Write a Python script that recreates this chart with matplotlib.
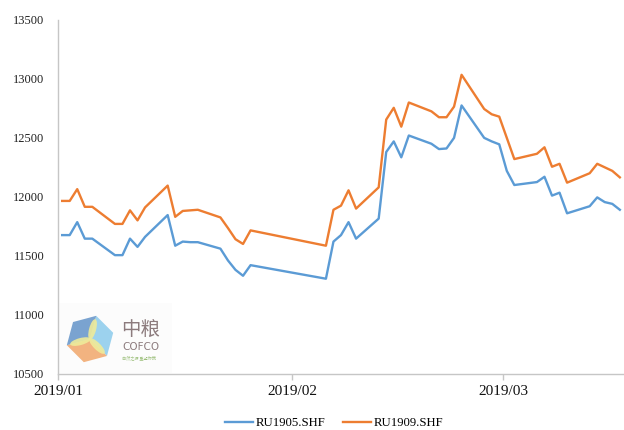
import matplotlib
matplotlib.use('Agg')
import matplotlib.pyplot as plt
import matplotlib.dates as mdates
from matplotlib.patches import Polygon, Ellipse, Rectangle
import numpy as np
import pandas as pd

# trading days (Spring Festival gap Feb 4-8)
trade_days = [
    '2019-01-07', '2019-01-08', '2019-01-09', '2019-01-10', '2019-01-11',
    '2019-01-14', '2019-01-15', '2019-01-16', '2019-01-17', '2019-01-18',
    '2019-01-21', '2019-01-22', '2019-01-23', '2019-01-24', '2019-01-25',
    '2019-01-28', '2019-01-29', '2019-01-30', '2019-01-31', '2019-02-01',
    '2019-02-11', '2019-02-12', '2019-02-13', '2019-02-14', '2019-02-15',
    '2019-02-18', '2019-02-19', '2019-02-20', '2019-02-21', '2019-02-22',
    '2019-02-25', '2019-02-26', '2019-02-27', '2019-02-28', '2019-03-01',
    '2019-03-04', '2019-03-05', '2019-03-06', '2019-03-07', '2019-03-08',
    '2019-03-11', '2019-03-12', '2019-03-13', '2019-03-14', '2019-03-15',
    '2019-03-18', '2019-03-19', '2019-03-20', '2019-03-21', '2019-03-22',
]
ru1905 = [
    11675, 11675, 11785, 11645, 11645,
    11505, 11505, 11645, 11575, 11660,
    11845, 11585, 11620, 11615, 11615,
    11560, 11460, 11380, 11330, 11420,
    11305, 11620, 11675, 11785, 11645,
    11815, 12380, 12470, 12335, 12520,
    12450, 12405, 12410, 12500, 12775,
    12500, 12470, 12445, 12220, 12100,
    12125, 12170, 12010, 12035, 11860,
    11920, 11995, 11955, 11940, 11890,
]
ru1909 = [
    11965, 11965, 12065, 11915, 11915,
    11770, 11770, 11885, 11800, 11910,
    12095, 11830, 11880, 11885, 11890,
    11825, 11735, 11640, 11600, 11715,
    11585, 11890, 11925, 12055, 11900,
    12080, 12655, 12755, 12595, 12800,
    12725, 12675, 12675, 12765, 13035,
    12745, 12700, 12680, 12500, 12320,
    12365, 12420, 12255, 12280, 12120,
    12200, 12280, 12250, 12220, 12165,
]
x_ticks = ['2019-01-07', '2019-02-07', '2019-03-07']
y_ticks = [10500, 11000, 11500, 12000, 12500, 13000, 13500]

plt.rcParams['font.family'] = ['Liberation Serif', 'DejaVu Sans']

W, H = 624, 430
fig = plt.figure(figsize=(W / 100, H / 100), dpi=100)

# logo, drawn in pixel coordinates (y downwards)
logo = fig.add_axes([59 / W, (H - 373) / H, 113 / W, 70 / H])
logo.set_xlim(59, 172)
logo.set_ylim(373, 303)
logo.axis('off')
logo.add_patch(Rectangle((59, 303), 113, 70, color='#fcfcfc', zorder=0))
cx, cy, r = 90, 339, 24
ang = np.deg2rad(np.arange(6) * 60 - 75)
hx = cx + r * np.cos(ang)
hy = cy + r * np.sin(ang)
faces = [([0, 1, 2], '#9cd2ee'), ([2, 3, 4], '#f2b380'), ([4, 5, 0], '#7aa3d0')]
for idx, c in faces:
    pts = [(cx, cy)] + [(hx[k], hy[k]) for k in idx]
    logo.add_patch(Polygon(pts, closed=True, color=c, lw=0))
for a in [-75, 45, 165]:
    t = np.deg2rad(a)
    logo.add_patch(Ellipse((cx + 10 * np.cos(t), cy + 10 * np.sin(t)), 21, 7,
                           angle=a, color='#eeeb9a', alpha=0.9, lw=0))
logo.text(121, 330, '中粮', family=['Noto Sans CJK SC'], fontsize=14,
          color='#8c7b7d', va='center', ha='left')
logo.text(122, 347, 'COFCO', family=['DejaVu Sans'], fontsize=7.5,
          color='#8c7b7d', va='center', ha='left')
logo.text(122, 358, '自然之源 重塑你我', family=['Noto Sans CJK SC'], fontsize=3,
          color='#9bbf7a', va='center', ha='left')

ax = fig.add_axes([58.4 / W, (H - 373.6) / H, 565.2 / W, 353.6 / H])
ax.patch.set_alpha(0)
dates = pd.to_datetime(trade_days) + pd.Timedelta(hours=12)
ax.plot(dates, ru1905, color='#5B9BD5', lw=1.7, label='RU1905.SHF')
ax.plot(dates, ru1909, color='#ED7D31', lw=1.7, label='RU1909.SHF')

ax.set_xlim(pd.Timestamp('2019-01-07'), pd.Timestamp('2019-03-23'))
ax.set_ylim(10500, 13500)
ax.set_yticks(y_ticks)
ax.set_xticks(pd.to_datetime(x_ticks))
ax.xaxis.set_major_formatter(mdates.DateFormatter('%Y/%m'))

for s in ['top', 'right']:
    ax.spines[s].set_visible(False)
for s in ['left', 'bottom']:
    ax.spines[s].set_color('#c6c6c6')
    ax.spines[s].set_linewidth(1.0)
ax.tick_params(axis='y', length=0, pad=10, labelsize=9, labelcolor='#222222')
ax.tick_params(axis='x', length=4.5, width=1.0, color='#c6c6c6', pad=4,
               labelsize=11, labelcolor='#111111')

fig.legend(loc='center', bbox_to_anchor=(0.535, 0.016), ncol=2, frameon=False,
           fontsize=9.2, handlelength=2.2, handletextpad=0.2, columnspacing=1.4)

fig.savefig('out.png', dpi=100)
